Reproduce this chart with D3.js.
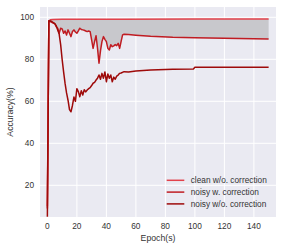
<!DOCTYPE html>
<html>
<head>
<meta charset="utf-8">
<script src="https://cdnjs.cloudflare.com/ajax/libs/d3/7.8.5/d3.min.js"></script>
<style>
body { margin: 0; background: #fff; }
text { font-family: "Liberation Sans", Arial, sans-serif; }
</style>
</head>
<body>
<svg></svg>
<script>
var WIDTH = 291;
var HEIGHT = 248;
var margin = {top: 7, right: 15, bottom: 31, left: 40};

// data
var cleanEpochs = [0, 1, 2, 4, 10, 50, 100, 150];
var cleanAcc = [10, 98.2, 98.8, 99, 99.1, 99.1, 99.2, 99.2];

var corrEpochs = [0, 1, 2, 3, 4, 5, 6, 7, 8, 9, 10, 11, 12, 13, 14, 15, 16, 17, 18, 19,
	20, 21, 22, 23, 24, 25, 26, 27, 28, 29, 30, 31, 32, 33, 34, 35, 36, 37, 38, 39,
	40, 41, 42, 43, 44, 45, 46, 47, 48, 49, 50, 51, 52, 55, 60, 70, 85, 100, 120, 150];
var corrAcc = [9, 98.2, 98, 97.6, 97.2, 97, 95.5, 94.8, 92.4, 94.8, 94.5, 92.4, 93.5, 91.6, 94, 92.4, 90.8, 93.2, 94, 93, 92.4,
	93.5, 94.8, 94.2, 94, 93.8, 93.5, 93.2, 93.5, 93.2, 89.2, 85.2, 88.4, 91.2, 85.2, 78.1, 84, 88.4, 90.8, 89.5,
	88.4, 85.2, 84.4, 86.9, 86, 86.4, 87, 86.5, 87.6, 85.2, 88.5, 91.6, 91.9, 91.8, 91.5, 91, 90.5, 90.3, 90, 89.7];

var noisyEpochs = [0, 1, 2, 3, 4, 5, 6, 7, 8, 9, 10, 11, 12, 13, 14, 15, 16, 17, 18, 19,
	20, 21, 22, 23, 24, 25, 26, 27, 28, 29, 30, 31, 32, 33, 34, 35, 36, 37, 38, 39,
	40, 41, 42, 43, 44, 45, 46, 47, 48, 49, 50, 52, 55, 60, 70, 85, 99, 100, 150];
var noisyAcc = [5, 98.3, 98.2, 98, 97.5, 97, 96, 94, 92, 87, 80, 74, 68.5, 64, 60.5, 56, 55, 58, 62, 60,
	66, 64.6, 62.2, 65, 63, 65.5, 64.5, 65.4, 66, 66.5, 67.5, 68.6, 69, 70.1, 71, 72.5, 70.5, 73.3, 71, 74,
	69.3, 73, 71, 72.5, 69.3, 71.5, 70.5, 72, 72.5, 73.3, 73.5, 74.1, 74, 74.4, 74.9, 75.2, 75.4, 76.2, 76.2];

var xTicks = [0, 20, 40, 60, 80, 100, 120, 140];
var yTicks = [20, 40, 60, 80, 100];
var seriesNames = ['clean w/o. correction', 'noisy w. correction', 'noisy w/o. correction'];
var seriesColors = ['#e2414b', '#c01c22', '#9e0a0a'];

var svg = d3.select('svg')
	.attr('width', WIDTH)
	.attr('height', HEIGHT);

var plotW = WIDTH - margin.left - margin.right;
var plotH = HEIGHT - margin.top - margin.bottom;

var x = d3.scaleLinear().domain([-5, 155]).range([0, plotW]);
var y = d3.scaleLinear().domain([4.9, 104.9]).range([plotH, 0]);

var g = svg.append('g')
	.attr('transform', 'translate(' + margin.left + ',' + margin.top + ')');

g.append('rect')
	.attr('width', plotW)
	.attr('height', plotH)
	.attr('fill', '#eaeaf2');

// grid
g.selectAll('.vgrid').data(xTicks).enter().append('line')
	.attr('x1', function(d){ return x(d); })
	.attr('x2', function(d){ return x(d); })
	.attr('y1', 0).attr('y2', plotH)
	.attr('stroke', '#fff').attr('stroke-width', 1);
g.selectAll('.hgrid').data(yTicks).enter().append('line')
	.attr('y1', function(d){ return y(d); })
	.attr('y2', function(d){ return y(d); })
	.attr('x1', 0).attr('x2', plotW)
	.attr('stroke', '#fff').attr('stroke-width', 1);

svg.append('defs').append('clipPath').attr('id', 'clip')
	.append('rect').attr('width', plotW).attr('height', plotH);

var zip = function(ep, acc){
	return ep.map(function(e, i){ return {e: e, v: acc[i]}; });
};
var clean = zip(cleanEpochs, cleanAcc);
var corr = zip(corrEpochs, corrAcc);
var noisy = zip(noisyEpochs, noisyAcc);

// clean accuracy at any epoch (linear between read points)
var cleanAt = function(e){
	var i = d3.bisectRight(cleanEpochs, e);
	if (i <= 0) return cleanAcc[0];
	if (i >= cleanEpochs.length) return cleanAcc[cleanAcc.length - 1];
	var t = (e - cleanEpochs[i - 1]) / (cleanEpochs[i] - cleanEpochs[i - 1]);
	return cleanAcc[i - 1] + t * (cleanAcc[i] - cleanAcc[i - 1]);
};

var plot = g.append('g').attr('clip-path', 'url(#clip)');

// gray band between clean and corrected curve
var area = d3.area()
	.x(function(d){ return x(d.e); })
	.y0(function(d){ return y(d.v); })
	.y1(function(d){ return y(cleanAt(d.e)); });
plot.append('path')
	.datum(corr.filter(function(d){ return d.e >= 1; }))
	.attr('d', area)
	.attr('fill', '#c8c8cc');

var line = d3.line()
	.x(function(d){ return x(d.e); })
	.y(function(d){ return y(d.v); });

[clean, corr, noisy].forEach(function(s, i){
	plot.append('path')
		.datum(s)
		.attr('d', line)
		.attr('fill', 'none')
		.attr('stroke', seriesColors[i])
		.attr('stroke-width', 1.5)
		.attr('stroke-linejoin', 'round');
});

// ticks
g.selectAll('.xt').data(xTicks).enter().append('text')
	.attr('x', function(d){ return x(d); })
	.attr('y', plotH + 12)
	.attr('text-anchor', 'middle')
	.attr('font-size', 8.3)
	.attr('fill', '#333')
	.text(function(d){ return d; });
g.selectAll('.yt').data(yTicks).enter().append('text')
	.attr('x', -6)
	.attr('y', function(d){ return y(d) + 3; })
	.attr('text-anchor', 'end')
	.attr('font-size', 8.3)
	.attr('fill', '#333')
	.text(function(d){ return d; });

g.append('text')
	.attr('x', plotW / 2)
	.attr('y', plotH + 24)
	.attr('text-anchor', 'middle')
	.attr('font-size', 8.7)
	.attr('fill', '#333')
	.text('Epoch(s)');
g.append('text')
	.attr('transform', 'translate(-27,' + (plotH / 2) + ') rotate(-90)')
	.attr('text-anchor', 'middle')
	.attr('font-size', 8.7)
	.attr('fill', '#333')
	.text('Accuracy(%)');

// legend
var legend = g.selectAll('.leg').data(seriesNames).enter().append('g')
	.attr('transform', function(d, i){ return 'translate(' + (166.7 - margin.left) + ',' + (180.3 - margin.top + i * 11.8) + ')'; });
legend.append('line')
	.attr('x1', 0).attr('x2', 17.6)
	.attr('stroke', function(d, i){ return seriesColors[i]; })
	.attr('stroke-width', 1.5);
legend.append('text')
	.attr('x', 24)
	.attr('y', 3)
	.attr('font-size', 8.3)
	.attr('fill', '#333')
	.text(function(d){ return d; });
</script>
</body>
</html>
